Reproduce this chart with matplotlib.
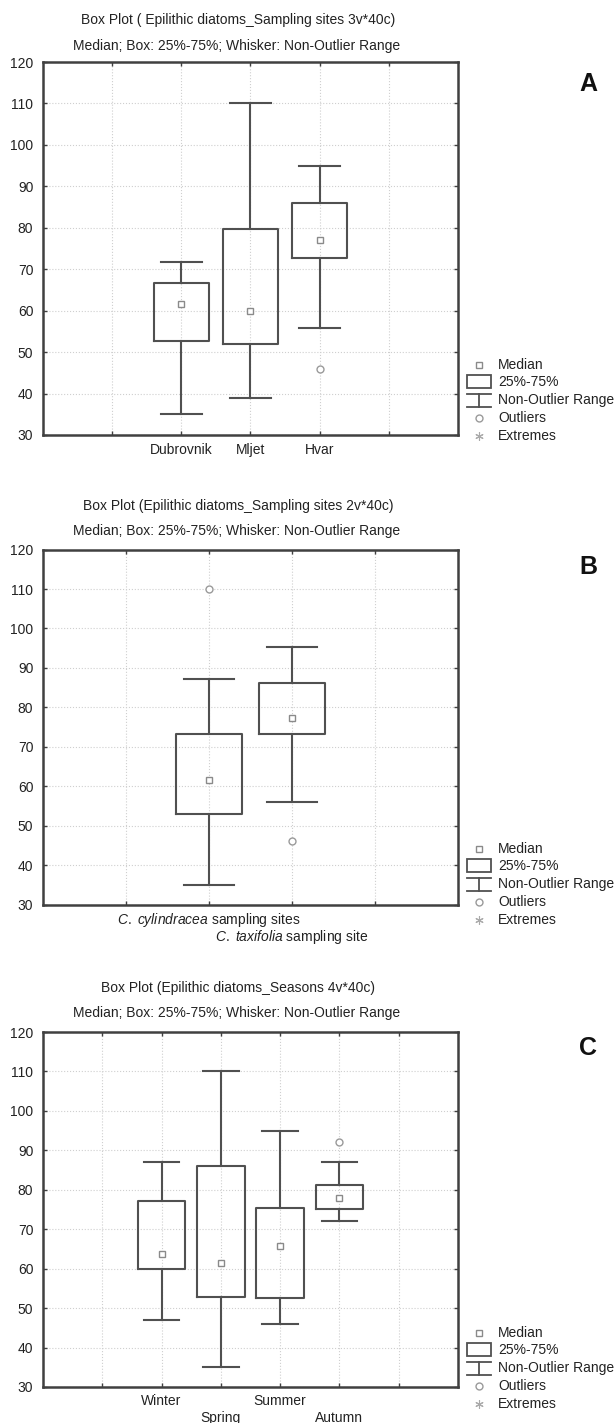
import numpy as np
import matplotlib
matplotlib.use('Agg')
from matplotlib import pyplot as plt
from matplotlib.patches import Rectangle

plt.rcParams['font.family'] = ['Liberation Sans', 'DejaVu Sans']
plt.rcParams['mathtext.fontset'] = 'custom'
plt.rcParams['mathtext.rm'] = 'Liberation Sans'
plt.rcParams['mathtext.it'] = 'Liberation Sans:italic'

W, H = 614, 1423

# panel A - sampling sites
labels_a = ['Dubrovnik', 'Mljet', 'Hvar']
q1_a = [52.7, 52.0, 72.8]
med_a = [61.6, 60.0, 77.1]
q3_a = [66.7, 79.8, 86.0]
lo_a = [35.0, 39.0, 55.8]
hi_a = [71.8, 110.0, 95.0]
out_a = [[], [], [46.0]]

# panel B - caulerpa sites
labels_b = [r'$\it{C.\ cylindracea}$ sampling sites', r'$\it{C.\ taxifolia}$ sampling site']
q1_b = [53.0, 73.2]
med_b = [61.5, 77.3]
q3_b = [73.2, 86.1]
lo_b = [35.0, 56.0]
hi_b = [87.2, 95.2]
out_b = [[110.0], [46.0]]

# panel C - seasons
labels_c = ['Winter', 'Spring', 'Summer', 'Autumn']
q1_c = [60.0, 52.8, 52.6, 75.2]
med_c = [63.8, 61.5, 65.8, 78.0]
q3_c = [77.2, 86.1, 75.4, 81.3]
lo_c = [47.0, 35.0, 46.0, 72.1]
hi_c = [87.1, 110.0, 95.0, 87.1]
out_c = [[], [], [], [92.0]]

yticks = list(range(30, 121, 10))

titles = ['Box Plot ( Epilithic diatoms_Sampling sites 3v*40c)',
          'Box Plot (Epilithic diatoms_Sampling sites 2v*40c)',
          'Box Plot (Epilithic diatoms_Seasons 4v*40c)']
subtitle = 'Median; Box: 25%-75%; Whisker: Non-Outlier Range'

line_c = '#505050'
txt_c = '#222222'
fs = 10

fig = plt.figure(figsize=(W / 100, H / 100), dpi=100)


def px_ax(left, top, right, bottom):
    return fig.add_axes([left / W, 1 - bottom / H, (right - left) / W, (bottom - top) / H])


def draw_panel(ax, labels, q1, med, q3, lo, hi, out, nslots, stagger, row1, row2):
    pos = list(range(2, 2 + len(labels)))
    stats = []
    for i in range(len(labels)):
        stats.append(dict(med=med[i], q1=q1[i], q3=q3[i], whislo=lo[i], whishi=hi[i],
                          fliers=out[i], mean=med[i]))
    ax.bxp(stats, positions=pos, widths=0.8, capwidths=0.6, showmeans=True,
           boxprops=dict(color=line_c, linewidth=1.5),
           whiskerprops=dict(color=line_c, linewidth=1.5),
           capprops=dict(color=line_c, linewidth=1.5),
           medianprops=dict(linewidth=0),
           meanprops=dict(marker='s', markerfacecolor='white', markeredgecolor='#8a8a8a',
                          markersize=5, markeredgewidth=1),
           flierprops=dict(marker='o', markerfacecolor='white', markeredgecolor='#9a9a9a',
                           markersize=5, markeredgewidth=1))
    ax.set_xlim(0, nslots)
    ax.set_ylim(30, 120)
    ax.set_yticks(yticks)
    ax.set_xticks(list(range(1, nslots)))
    ax.set_xticklabels([])
    # category labels, staggered in two rows where the reference does
    for i, p in enumerate(pos):
        dy = row2 if (stagger and i % 2 == 1) else row1
        ax.annotate(labels[i], xy=(p, 0), xycoords=('data', 'axes fraction'),
                    xytext=(0, -dy * 0.72), textcoords='offset points',
                    ha='center', va='center', fontsize=fs, color=txt_c)
    ax.grid(True, color='#cfcfcf', linestyle=':', linewidth=0.8)
    ax.set_axisbelow(True)
    ax.tick_params(direction='in', length=3, width=1, color='#404040',
                   top=True, right=True, labelsize=fs, labelcolor=txt_c)
    ax.tick_params(axis='y', pad=7)
    for s in ax.spines.values():
        s.set_color('#404040')
        s.set_linewidth(1.8)


axA = px_ax(43, 62, 458, 435)
draw_panel(axA, labels_a, q1_a, med_a, q3_a, lo_a, hi_a, out_a, 6, False, 15, 32)
axB = px_ax(43, 549.6, 458, 904.5)
draw_panel(axB, labels_b, q1_b, med_b, q3_b, lo_b, hi_b, out_b, 5, True, 15.5, 32.5)
axC = px_ax(43, 1032, 458, 1387)
draw_panel(axC, labels_c, q1_c, med_c, q3_c, lo_c, hi_c, out_c, 7, True, 14, 31)

# overlay for titles, letters and legends (pixel coords)
ov = fig.add_axes([0, 0, 1, 1])
ov.set_xlim(0, W)
ov.set_ylim(H, 0)
ov.axis('off')

title_y = [20, 506, 988]
sub_y = [46, 531, 1013]
letter_y = [84, 567, 1048]
leg_y = [365, 849, 1333]

for k in range(3):
    ov.text(238, title_y[k], titles[k], ha='center', va='center', fontsize=fs, color=txt_c)
    ov.text(237, sub_y[k], subtitle, ha='center', va='center', fontsize=fs, color=txt_c)
    ov.text(588, letter_y[k], 'ABC'[k], ha='center', va='center', fontsize=18,
            fontweight='bold', color='#111111')
    y0 = leg_y[k]
    ov.plot([479], [y0], marker='s', mfc='white', mec='#8a8a8a', ms=5, mew=1)
    ov.add_patch(Rectangle((467, y0 + 10), 24, 13, fill=False, edgecolor=line_c, linewidth=1.3))
    ov.plot([467, 491], [y0 + 29, y0 + 29], color=line_c, lw=1.3)
    ov.plot([479, 479], [y0 + 29, y0 + 42], color=line_c, lw=1.3)
    ov.plot([467, 491], [y0 + 42, y0 + 42], color=line_c, lw=1.3)
    ov.plot([479], [y0 + 53], marker='o', mfc='white', mec='#9a9a9a', ms=5, mew=1)
    ov.plot([479], [y0 + 71], marker=(6, 2, 0), color='#aaaaaa', ms=6, mew=0.8)
    for j, s in enumerate(['Median', '25%-75%', 'Non-Outlier Range', 'Outliers', 'Extremes']):
        ov.text(498, y0 + [0, 17, 35, 53, 71][j], s, ha='left', va='center', fontsize=fs, color=txt_c)

fig.savefig('out.png', dpi=100)
